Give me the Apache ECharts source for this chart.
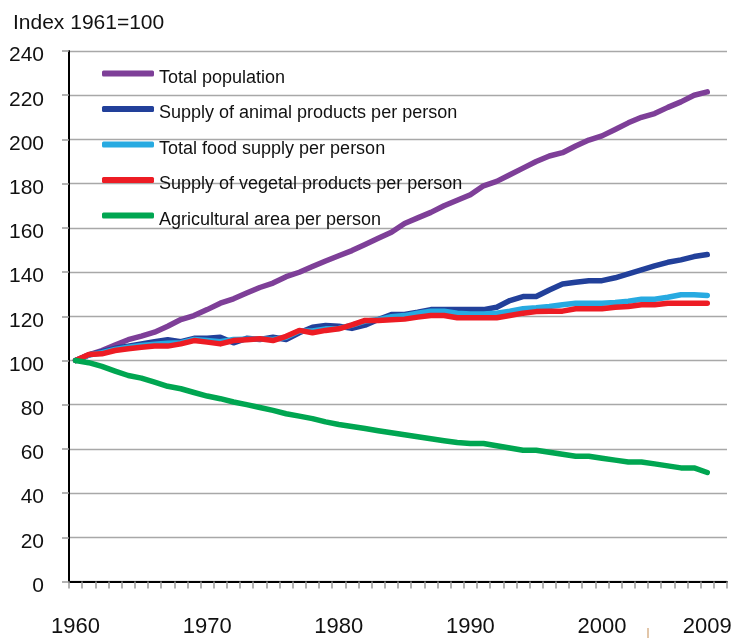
<!DOCTYPE html>
<html>
<head>
<meta charset="utf-8">
<script src="https://cdn.jsdelivr.net/npm/echarts@6/dist/echarts.min.js"></script>
<style>
html,body{margin:0;padding:0;background:#fff;}
#chart{width:746px;height:638px;}
</style>
</head>
<body>
<div id="chart"></div>
<script>
// Categories (one slot per year; last slot is empty space at the end of the axis)
const years = ['1961','1962','1963','1964','1965','1966','1967','1968','1969','1970',
  '1971','1972','1973','1974','1975','1976','1977','1978','1979','1980',
  '1981','1982','1983','1984','1985','1986','1987','1988','1989','1990',
  '1991','1992','1993','1994','1995','1996','1997','1998','1999','2000',
  '2001','2002','2003','2004','2005','2006','2007','2008','2009','2010'];

// Tick labels shown on the x axis (category index -> text)
const xTickIndex = [0, 10, 20, 30, 40, 48];
const xTickText  = ['1960', '1970', '1980', '1990', '2000', '2009'];

const seriesNames = ['Total population', 'Supply of animal products per person',
  'Total food supply per person', 'Supply of vegetal products per person',
  'Agricultural area per person'];

const totalPopulation = [100,102.5,104.5,107,109.4,111,112.8,115.5,118.5,120.3,
  123,125.9,127.9,130.5,133,135,137.9,139.9,142.5,145,
  147.4,149.7,152.5,155.3,158,162,164.5,167,170,172.5,
  175,179,181,184,187,190,192.5,194,197,199.7,
  201.6,204.5,207.5,210,211.7,214.5,217,220,221.5];

const animalSupply = [100,102.5,104,105.5,106.5,107.5,108.5,109.4,108.5,110,
  110,110.5,108,110,109.5,110.5,109.5,112.5,115,115.8,
  115.5,114.5,116,118.5,120.8,120.8,121.8,123,123,123,
  123,123,124.1,127.1,128.9,128.9,131.9,134.6,135.4,136.1,
  136.1,137.4,139.2,141,142.8,144.4,145.5,147,147.9];

const totalFoodSupply = [100,102.5,103.5,105,106,106.8,107.3,107.8,108,109.5,
  109,108.5,109.5,109.6,109.8,109.5,110.5,113.3,113.3,114.3,
  114.5,116,117.8,118.5,119.8,120.3,121.4,122.3,122.3,121.4,
  121,121,121.4,122.3,123.4,123.8,124.4,125.2,125.9,125.9,
  125.9,126.2,126.8,127.7,127.7,128.6,129.7,129.7,129.4];

const vegetalSupply = [100,102.7,103,104.5,105.3,106,106.5,106.5,107.5,109,
  108.3,107.5,109,109.4,109.8,109,110.9,113.6,112.5,113.6,
  114.3,116.1,118.1,118.1,118.4,118.7,119.6,120.3,120.3,119.3,
  119.3,119.3,119.3,120.3,121.4,122.1,122.3,122.3,123.4,123.4,
  123.4,124.1,124.4,125.2,125.2,125.9,125.9,125.9,125.9];

const agriculturalArea = [100,99,97.3,95.2,93.2,92,90.2,88.3,87.2,85.5,
  83.9,82.7,81.2,80,78.7,77.4,75.9,74.8,73.7,72.2,
  71,70.1,69.2,68.2,67.3,66.4,65.5,64.6,63.7,62.9,
  62.4,62.4,61.4,60.4,59.4,59.4,58.5,57.6,56.7,56.7,
  55.8,54.9,54.1,54.1,53.2,52.3,51.4,51.4,49.3];

const seriesData = [totalPopulation, animalSupply, totalFoodSupply, vegetalSupply, agriculturalArea];
const colors = ['#7e3f98', '#22409a', '#27aae1', '#ed1c24', '#00a651'];

const FONT = "'Liberation Sans', Arial, sans-serif";

const chart = echarts.init(document.getElementById('chart'), null, {renderer: 'canvas'});

chart.setOption({
  animation: false,
  backgroundColor: '#fff',
  color: colors,
  title: {
    text: 'Index 1961=100',
    left: 13, top: 12, padding: 0,
    textStyle: {fontFamily: FONT, fontSize: 21, fontWeight: 'normal', color: '#111', lineHeight: 22}
  },
  legend: {
    orient: 'vertical',
    left: 102, top: 60,
    padding: 0,
    itemWidth: 52, itemHeight: 6,
    itemGap: 8.5,
    icon: 'roundRect',
    selectedMode: false,
    data: seriesNames,
    formatter: '{t|{name}}',
    textStyle: {
      fontFamily: FONT, fontSize: 18, color: '#111',
      rich: {t: {fontFamily: FONT, fontSize: 18, color: '#111', lineHeight: 20, padding: [9, 0, 0, 0]}}
    }
  },
  grid: {left: 69, right: 19, top: 51, bottom: 56.5, containLabel: false},
  xAxis: {
    type: 'category',
    data: years,
    boundaryGap: true,
    axisLine: {show: true, lineStyle: {color: '#000', width: 2}},
    axisTick: {show: true, interval: 0, length: 7, lineStyle: {color: '#9a9a9a', width: 1.5}},
    axisLabel: {
      interval: function (idx) { return xTickIndex.indexOf(idx) >= 0; },
      formatter: function (val, idx) { const k = xTickIndex.indexOf(idx); return k >= 0 ? xTickText[k] : ''; },
      fontFamily: FONT, fontSize: 22, color: '#111', margin: 34, lineHeight: 22
    },
    splitLine: {show: false}
  },
  yAxis: {
    type: 'value',
    min: 0, max: 240, interval: 20,
    axisLine: {show: true, lineStyle: {color: '#000', width: 2}},
    axisTick: {show: true, length: 7, lineStyle: {color: '#9a9a9a', width: 1.5}},
    axisLabel: {
      fontFamily: FONT, fontSize: 21, color: '#111', margin: 25,
      verticalAlign: 'top', lineHeight: 9
    },
    splitLine: {show: true, lineStyle: {color: '#a8a8a8', width: 1.3}}
  },
  series: seriesNames.map(function (name, i) {
    return {
      name: name,
      type: 'line',
      data: seriesData[i],
      symbol: 'none',
      smooth: false,
      lineStyle: {width: 5.5, color: colors[i], cap: 'round', join: 'round'},
      emphasis: {disabled: true}
    };
  }),
  graphic: [{
    type: 'line',
    shape: {x1: 648, y1: 628, x2: 648, y2: 638},
    style: {stroke: '#d9b38c', lineWidth: 1.5}
  }]
});
</script>
</body>
</html>
